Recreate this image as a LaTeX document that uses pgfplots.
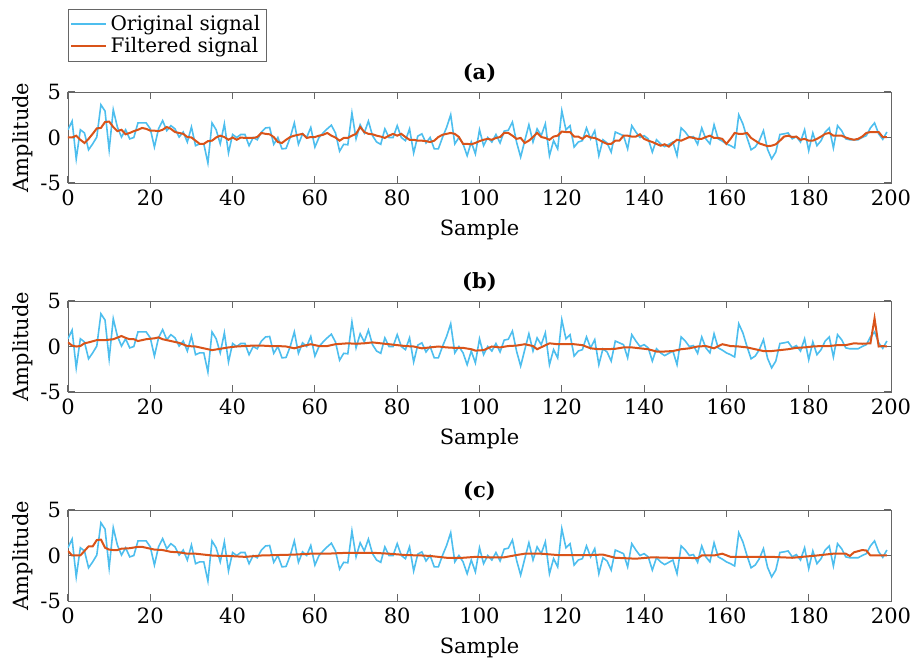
\documentclass[border=0pt]{standalone}
\usepackage{fontspec}
\setmainfont{DejaVu Serif}
\usepackage{pgfplots}
\usepackage{pgfplotstable}
\pgfplotsset{compat=1.18}
\usetikzlibrary{calc}

\definecolor{origc}{RGB}{77,190,238}
\definecolor{filtc}{RGB}{217,83,25}

% original noisy signal (same in all panels)
\pgfplotstableread{
n y
0 0.85
1 1.8
2 -2.35
3 0.85
4 0.5
5 -1.35
6 -0.7
7 0.05
8 3.6
9 2.9
10 -1.35
11 3.05
12 1.15
13 0.05
14 0.85
15 -0.15
16 0
17 1.6
18 1.6
19 1.6
20 0.95
21 -1.05
22 0.95
23 1.85
24 0.75
25 1.3
26 0.95
27 0.05
28 0.6
29 -0.5
30 1.15
31 -0.9
32 -0.7
33 -0.7
34 -2.8
35 1.6
36 0.85
37 -0.7
38 1.5
39 -1.7
40 0.33
41 0
42 0.33
43 0.33
44 -0.9
45 0
46 -0.25
47 0.6
48 1.05
49 1.1
50 -0.75
51 0
52 -1.25
53 -1.2
54 0
55 1.6
56 -0.75
57 0.4
58 0
59 1.1
60 -1.05
61 0
62 0.5
63 0.95
64 1.35
65 0.5
66 -1.5
67 -0.75
68 -0.8
69 2.7
70 -0.15
71 1.4
72 0.5
73 1.8
74 0.2
75 -0.5
76 -0.75
77 0.95
78 0
79 0
80 1.3
81 0
82 -0.35
83 0.95
84 -1.7
85 0.15
86 0.4
87 -0.6
88 0
89 -1.25
90 -1.25
91 0
92 1.1
93 2.5
94 -0.7
95 0
96 -0.7
97 -2.0
98 -0.5
99 -1.8
100 0.85
101 -0.9
102 0
103 -0.5
104 0.33
105 -0.6
106 0.7
107 0.8
108 1.7
109 -0.5
110 -2.15
111 -0.35
112 1.4
113 -0.5
114 0.95
115 0.2
116 1.5
117 -2.0
118 -0.35
119 -1.25
120 2.95
121 0.85
122 1.3
123 -1.05
124 -0.5
125 -0.35
126 1.05
127 -0.15
128 0.75
129 -2.0
130 -0.25
131 -0.6
132 -1.6
133 0.6
134 0.4
135 0.2
136 -1.25
137 1.3
138 0.6
139 0
140 0.2
141 -0.15
142 -1.6
143 -0.25
144 -0.7
145 -1.0
146 -0.75
147 -0.5
148 -2.0
149 1.05
150 0.6
151 0
152 0.1
153 -0.75
154 1.05
155 -0.15
156 -0.7
157 1.4
158 -0.15
159 -0.4
160 -0.7
161 -0.9
162 -1.15
163 2.5
164 1.5
165 0
166 -1.35
167 -1.05
168 -0.35
169 0.75
170 -1.3
171 -2.35
172 -1.6
173 0.33
174 0.4
175 0.5
176 -0.15
177 0.1
178 -0.5
179 0.85
180 -1.45
181 0.5
182 -0.9
183 -0.35
184 0.6
185 1.05
186 -1.15
187 1.3
188 0.75
189 -0.15
190 -0.25
191 -0.25
192 -0.25
193 0
194 0.2
195 1.05
196 1.6
197 0.4
198 -0.2
199 0.6
}\orig

\pgfplotsset{
  panel/.style={
    scale only axis, width=411.5pt, height=45.5pt,
    xmin=0, xmax=200, ymin=-5, ymax=5,
    xtick={0,20,...,200}, ytick={-5,0,5}, yticklabels={-5,0,5},
    tick pos=both, tick align=inside, major tick length=3.5pt,
    axis line style={black!60}, major tick style={black!60, line width=0.5pt},
    /pgf/number format/assume math mode=true,
    xlabel={Sample}, ylabel={Amplitude},
    xlabel style={yshift=0pt},
    ylabel style={yshift=-3pt},
    title style={font=\fontsize{10.5}{12.5}\selectfont\bfseries, yshift=-5pt},
  },
  orig/.style={origc, line width=0.8pt},
  filt/.style={filtc, line width=1pt},
}

\begin{document}
\begin{tikzpicture}[font=\fontsize{10.5}{12.5}\selectfont]
\begin{axis}[panel, name=a, title={(a)},
  legend style={at={(0,1)}, anchor=south west, yshift=15pt, draw=black!60,
    inner sep=1pt, row sep=-2pt, font=\fontsize{10}{11.5}\selectfont},
  legend cell align=left]
\addplot[orig] table[x=n,y=y] {\orig};
\addlegendentry{Original signal}
\addplot[filt] coordinates {
(0,0) (1,0) (2,0.2) (3,-0.25) (4,-0.6) (5,-0.15) (6,0.4) (7,1.0) (8,1.05)
(9,1.7) (10,1.75) (11,1.15) (12,0.7) (13,0.85) (14,0.35) (15,0.5) (16,0.7)
(17,0.85) (18,1.05) (19,0.95) (20,0.75) (21,0.75) (22,0.7) (23,0.85) (24,1.15)
(25,0.95) (26,0.6) (27,0.5) (28,0.4) (29,0.05) (30,0) (31,-0.35) (32,-0.7)
(33,-0.7) (34,-0.4) (35,-0.35) (36,0) (37,0.2) (38,0.05) (39,-0.25) (40,0)
(41,-0.25) (42,0) (43,-0.05) (44,-0.05) (45,-0.05) (46,0.05) (47,0.5) (48,0.4)
(49,0.35) (50,0.05) (51,-0.5) (52,-0.6) (53,-0.25) (54,0.05) (55,0.2) (56,0.3)
(57,0.4) (58,-0.05) (59,0.05) (60,0.05) (61,0.2) (62,0.3) (63,0.5) (64,0.2)
(65,0) (66,-0.35) (67,-0.05) (68,-0.05) (69,0.2) (70,0.4) (71,1.15) (72,0.6)
(73,0.4) (74,0.35) (75,0.2) (76,0.1) (77,-0.05) (78,0.2) (79,0.4) (80,0.2)
(81,0.4) (82,0.05) (83,-0.25) (84,-0.25) (85,-0.35) (86,-0.35) (87,-0.4)
(88,-0.5) (89,-0.35) (90,0.05) (91,0.3) (92,0.4) (93,0.5) (94,0.4) (95,0.05)
(96,-0.7) (97,-0.7) (98,-0.75) (99,-0.6) (100,-0.4) (101,-0.25) (102,-0.15)
(103,-0.25) (104,-0.05) (105,0.05) (106,0.5) (107,0.5) (108,0.2) (109,-0.15)
(110,-0.05) (111,-0.6) (112,-0.35) (113,0.05) (114,0.5) (115,0.05) (116,-0.05)
(117,-0.25) (118,0.1) (119,0.2) (120,0.65) (121,0.6) (122,0.6) (123,0.1)
(124,0.1) (125,-0.15) (126,0.2) (127,0) (128,-0.05) (129,-0.25) (130,-0.5)
(131,-0.7) (132,-0.7) (133,-0.35) (134,-0.35) (135,0.2) (136,0.2) (137,0.1)
(138,0.1) (139,0.35) (140,-0.15) (141,-0.35) (142,-0.5) (143,-0.7) (144,-0.9)
(145,-0.75) (146,-1.0) (147,-0.6) (148,-0.25) (149,-0.35) (150,-0.15) (151,0.05)
(152,-0.05) (153,-0.15) (154,-0.15) (155,0.05) (156,0.2) (157,-0.05) (158,-0.05)
(159,-0.15) (160,-0.7) (161,-0.15) (162,0.5) (163,0.4) (164,0.4) (165,0.5)
(166,-0.05) (167,-0.35) (168,-0.65) (169,-0.8) (170,-0.95) (171,-0.9) (172,-0.75)
(173,-0.35) (174,0.1) (175,0.2) (176,0.05) (177,0.1) (178,-0.25) (179,-0.15)
(180,-0.35) (181,-0.35) (182,-0.15) (183,0.1) (184,0.4) (185,0.5) (186,0.2)
(187,0.2) (188,0.2) (189,0) (190,-0.15) (191,-0.25) (192,-0.15) (193,0.1)
(194,0.5) (195,0.6) (196,0.6) (197,0.6) (198,0.05) (199,0.05)
};
\addlegendentry{Filtered signal}
\end{axis}

\begin{axis}[panel, name=b, at={(0,-104.5pt)}, title={(b)}]
\addplot[orig] table[x=n,y=y] {\orig};
\addplot[filt] coordinates {
(0,0.45) (1,0.1) (2,0) (3,0.05) (4,0.35) (5,0.45) (7,0.7) (9,0.7) (11,0.8)
(13,1.15) (14,0.95) (15,0.8) (16,0.8) (17,0.6) (19,0.8) (21,0.9) (22,1.0)
(23,0.8) (25,0.6) (27,0.4) (29,0.05) (31,0) (33,-0.2) (35,-0.4) (37,-0.25)
(39,-0.1) (41,0) (43,0.05) (45,0.1) (47,0.1) (49,0.05) (51,0.05) (53,0)
(55,-0.2) (57,0.05) (59,0.25) (61,0.05) (63,0.05) (65,0.25) (68,0.35) (70,0.3)
(72,0.35) (74,0.45) (76,0.35) (78,0.25) (80,0.15) (82,0.05) (84,0) (86,-0.2)
(88,-0.1) (90,0) (92,-0.1) (94,-0.15) (96,-0.15) (98,-0.3) (99,-0.45)
(101,-0.4) (103,0) (105,-0.1) (107,0.05) (109,0.1) (111,0.25) (113,0.05)
(114,-0.3) (117,0.35) (119,0.25) (121,0.25) (123,0.25) (125,0.15) (127,-0.2)
(129,-0.3) (131,-0.3) (133,-0.25) (135,-0.1) (137,-0.1) (139,-0.2) (141,-0.3)
(143,-0.55) (145,-0.55) (147,-0.5) (149,-0.3) (151,-0.2) (153,0) (155,0.05)
(157,-0.2) (159,0.25) (161,0.05) (163,0) (165,-0.1) (167,-0.3) (169,-0.5)
(171,-0.5) (173,-0.4) (175,-0.3) (177,-0.15) (179,-0.1) (181,0) (183,0.05)
(185,0.05) (187,0.15) (189,0.15) (191,0.35) (193,0.3) (195,0.35) (196,3.1)
(197,0) (198,0.05) (199,0)
};
\end{axis}

\begin{axis}[panel, name=c, at={(0,-209pt)}, title={(c)}]
\addplot[orig] table[x=n,y=y] {\orig};
\addplot[filt] coordinates {
(0,0.5) (1,0) (2,0) (3,0) (4,0.5) (5,1.0) (6,1.0) (7,1.7) (8,1.75) (9,0.85)
(10,0.65) (11,0.6) (12,0.6) (13,0.75) (15,0.8) (17,0.95) (18,0.95) (19,0.85)
(21,0.65) (23,0.6) (25,0.4) (27,0.35) (29,0.2) (31,0.2) (33,0.1) (35,0)
(37,-0.05) (39,-0.05) (43,-0.15) (47,0) (51,0.05) (55,0.1) (59,0.2) (63,0.2)
(68,0.3) (74,0.3) (78,0.2) (82,0.05) (86,0) (88,-0.05) (92,-0.25) (96,-0.25)
(99,-0.15) (102,-0.2) (106,-0.2) (109,0.05) (111,0.2) (115,0.2) (119,0.05)
(123,0.05) (127,0.05) (130,0.1) (133,-0.25) (138,-0.35) (142,-0.2) (146,-0.25)
(150,-0.25) (153,-0.3) (154,0) (157,0) (159,0.2) (161,-0.15) (166,-0.15)
(171,-0.15) (176,-0.25) (182,0) (186,0.2) (189,0.2) (190,-0.05) (191,0.35)
(193,0.6) (194,0.55) (195,0) (197,0) (199,0)
};
\end{axis}

\pgfresetboundingbox
\path ($(a.north west)+(-34pt,46pt)$) rectangle ($(c.south east)+(11.5pt,-30.5pt)$);
\end{tikzpicture}
\end{document}
